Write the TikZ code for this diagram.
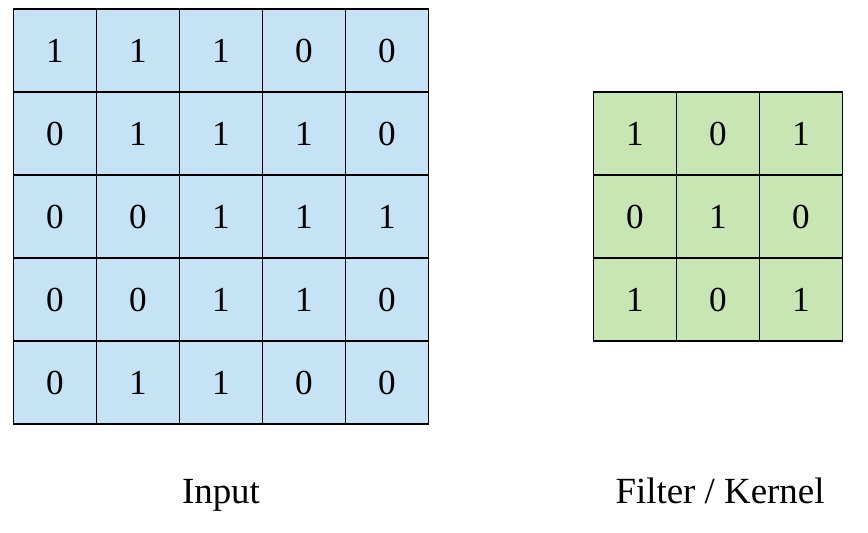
\documentclass[tikz,border=0pt]{standalone}
\usepackage{fontspec}
\setmainfont{Liberation Serif}
\usetikzlibrary{positioning}

\definecolor{inblue}{HTML}{C5E3F5}
\definecolor{fgreen}{HTML}{C8E6B4}

\begin{document}
\begin{tikzpicture}[
    x=0.02cm, y=-0.02cm,
    cell/.style={draw, line width=1.1pt, minimum size=1.66cm, inner sep=0pt,
        font=\fontsize{20}{24}\selectfont},
    incell/.style={cell, fill=inblue},
    fcell/.style={cell, fill=fgreen},
    caption/.style={anchor=base, inner sep=0pt, font=\fontsize{21}{25}\selectfont}
]
\useasboundingbox (0,0) rectangle (868,532);

    % input grid
    \foreach \row [count=\j] in {{1,1,1,0,0},{0,1,1,1,0},{0,0,1,1,1},{0,0,1,1,0},{0,1,1,0,0}}
        \foreach \v [count=\i] in \row
            \node [incell] (in-\j-\i) at ({13.5+83*(\i-0.5)},{9+83*(\j-0.5)}) {\v};

    % filter / kernel
    \foreach \row [count=\j] in {{1,0,1},{0,1,0},{1,0,1}}
        \foreach \v [count=\i] in \row
            \node [fcell] (k-\j-\i) at ({593.5+83*(\i-0.5)},{92+83*(\j-0.5)}) {\v};

    \node [caption] (inlabel) at (221,503) {Input};
    \node [caption] (klabel) at (720,503) {Filter / Kernel};
\end{tikzpicture}
\end{document}
